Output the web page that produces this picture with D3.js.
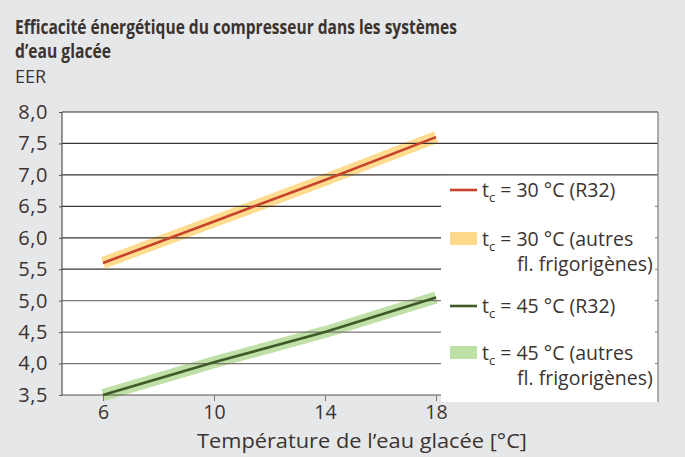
<!DOCTYPE html>
<html>
<head>
<meta charset="utf-8">
<script src="https://cdn.jsdelivr.net/npm/d3@7"></script>
<style>
  html, body { margin: 0; padding: 0; background: #e6e7e9; }
  svg { display: block; font-family: "Open Sans", "Noto Sans", sans-serif; }
</style>
</head>
<body>
<svg id="chart"></svg>
<script>
// data
const temps = [6, 10, 14, 18];
const eer30 = [5.6, 6.26, 6.92, 7.6];
const eer45 = [3.5, 4.02, 4.5, 5.05];
const yTicks = [3.5, 4.0, 4.5, 5.0, 5.5, 6.0, 6.5, 7.0, 7.5, 8.0];
const xTicks = [6, 10, 14, 18];
const legendLabels = [
    ["30 °C (R32)"],
    ["30 °C (autres", "fl. frigorigènes)"],
    ["45 °C (R32)"],
    ["45 °C (autres", "fl. frigorigènes)"]
];

const W = 685, H = 457;
const textCol = "#3b3330";

const svg = d3.select("#chart")
    .attr("width", W)
    .attr("height", H);

svg.append("rect").attr("width", W).attr("height", H).attr("fill", "#e6e7e9");

const x = d3.scaleLinear().domain([6, 18]).range([103, 436]);
const y = d3.scaleLinear().domain([3.5, 8]).range([395, 112]);

const left = 62, right = 658, legX = 441;

// plot area
svg.append("rect")
    .attr("x", left).attr("y", y(8))
    .attr("width", right - left).attr("height", y(3.5) - y(8))
    .attr("fill", "#fff");

// title
svg.append("text")
    .attr("x", 15).attr("y", 34)
    .attr("textLength", 442).attr("lengthAdjust", "spacingAndGlyphs")
    .style("font-size", "19px").style("font-weight", "bold").attr("fill", textCol)
    .text("Efficacité énergétique du compresseur dans les systèmes");
svg.append("text")
    .attr("x", 15).attr("y", 58)
    .attr("textLength", 96).attr("lengthAdjust", "spacingAndGlyphs")
    .style("font-size", "19px").style("font-weight", "bold").attr("fill", textCol)
    .text("d’eau glacée");
svg.append("text")
    .attr("x", 15).attr("y", 83)
    .style("font-size", "18px").attr("fill", textCol)
    .text("EER");

const line = d3.line().x(d => x(d[0])).y(d => y(d[1]));
const pts30 = temps.map((t, i) => [t, eer30[i]]);
const pts45 = temps.map((t, i) => [t, eer45[i]]);

// bands
svg.append("path").attr("d", line(pts30))
    .attr("fill", "none").attr("stroke", "#fdd374").attr("stroke-opacity", 0.8)
    .attr("stroke-width", 12);
svg.append("path").attr("d", line(pts45))
    .attr("fill", "none").attr("stroke", "#afd890").attr("stroke-opacity", 0.8)
    .attr("stroke-width", 12);

// gridlines
svg.append("g").selectAll("line")
    .data(yTicks.filter(d => d > 3.5))
    .join("line")
    .attr("x1", left).attr("x2", right)
    .attr("y1", d => y(d)).attr("y2", d => y(d))
    .attr("stroke", d => d >= 5.5 ? "#3b3330" : "#7d7673")
    .attr("stroke-width", 1.2);

// legend box
svg.append("rect")
    .attr("x", legX).attr("y", y(7) + 1)
    .attr("width", right - legX).attr("height", 402 - y(7) - 1)
    .attr("fill", "#fff");

// small stubs on right edge
svg.append("g").selectAll("line")
    .data(yTicks.filter(d => d < 7 && d > 3.5))
    .join("line")
    .attr("x1", right - 3).attr("x2", right)
    .attr("y1", d => y(d)).attr("y2", d => y(d))
    .attr("stroke", "#7d7673").attr("stroke-width", 1);

svg.append("line")
    .attr("x1", right).attr("x2", right).attr("y1", y(8)).attr("y2", 402)
    .attr("stroke", "#8a8482").attr("stroke-width", 1.3);

// axes
svg.append("line")
    .attr("x1", left).attr("x2", left).attr("y1", y(8)).attr("y2", y(3.5))
    .attr("stroke", "#5a5350").attr("stroke-width", 1.2);
svg.append("line")
    .attr("x1", left).attr("x2", legX).attr("y1", y(3.5)).attr("y2", y(3.5))
    .attr("stroke", "#5a5350").attr("stroke-width", 1.2);

const yAxis = svg.append("g")
    .attr("transform", `translate(${left},0)`)
    .call(d3.axisLeft(y).tickValues(yTicks).tickSize(3).tickPadding(11)
        .tickFormat(d => d3.format(".1f")(d).replace(".", ",")));
yAxis.select(".domain").remove();
yAxis.selectAll("line").attr("stroke", "#5a5350");
yAxis.selectAll("text").attr("fill", textCol)
    .style("font-size", "20px").style("letter-spacing", "0.6px")
    .style("font-family", "'Open Sans', sans-serif");

const xAxis = svg.append("g")
    .attr("transform", `translate(0,${y(3.5)})`)
    .call(d3.axisBottom(x).tickValues(xTicks).tickSize(6).tickPadding(4));
xAxis.select(".domain").remove();
xAxis.selectAll("line").attr("stroke", "#7d7673");
xAxis.selectAll("text").attr("fill", textCol)
    .style("font-size", "19.5px").style("font-family", "'Open Sans', sans-serif");

svg.append("text")
    .attr("x", 362).attr("y", 448)
    .attr("text-anchor", "middle")
    .attr("textLength", 330).attr("lengthAdjust", "spacingAndGlyphs")
    .style("font-size", "20.5px").attr("fill", textCol)
    .text("Température de l’eau glacée [°C]");

// lines
svg.append("path").attr("d", line(pts30))
    .attr("fill", "none").attr("stroke", "#c8432b").attr("stroke-width", 2.6);
svg.append("path").attr("d", line(pts45))
    .attr("fill", "none").attr("stroke", "#3d5a27").attr("stroke-width", 2.6);

// legend
const legY = [190, 239, 306, 353];
const legend = svg.append("g");
legendLabels.forEach((lab, i) => {
    const yy = legY[i];
    if (i % 2 === 0) {
        legend.append("line")
            .attr("x1", 450).attr("x2", 477).attr("y1", yy).attr("y2", yy)
            .attr("stroke", i === 0 ? "#c8432b" : "#3d5a27").attr("stroke-width", 2.6);
    } else {
        legend.append("rect")
            .attr("x", 450).attr("y", yy - 7).attr("width", 27).attr("height", 13)
            .attr("fill", i === 1 ? "#fdd98c" : "#bfe0a6");
    }
    const t = legend.append("text")
        .attr("x", 482).attr("y", yy + 7)
        .style("font-size", "19.5px").attr("fill", textCol);
    t.append("tspan").text("t");
    t.append("tspan").attr("dy", 5).style("font-size", "13px").text("c");
    t.append("tspan").attr("dy", -5).text(" = " + lab[0]);
    if (lab[1]) {
        legend.append("text")
            .attr("x", 517).attr("y", yy + 32)
            .style("font-size", "19.5px").attr("fill", textCol)
            .text(lab[1]);
    }
});
</script>
</body>
</html>
